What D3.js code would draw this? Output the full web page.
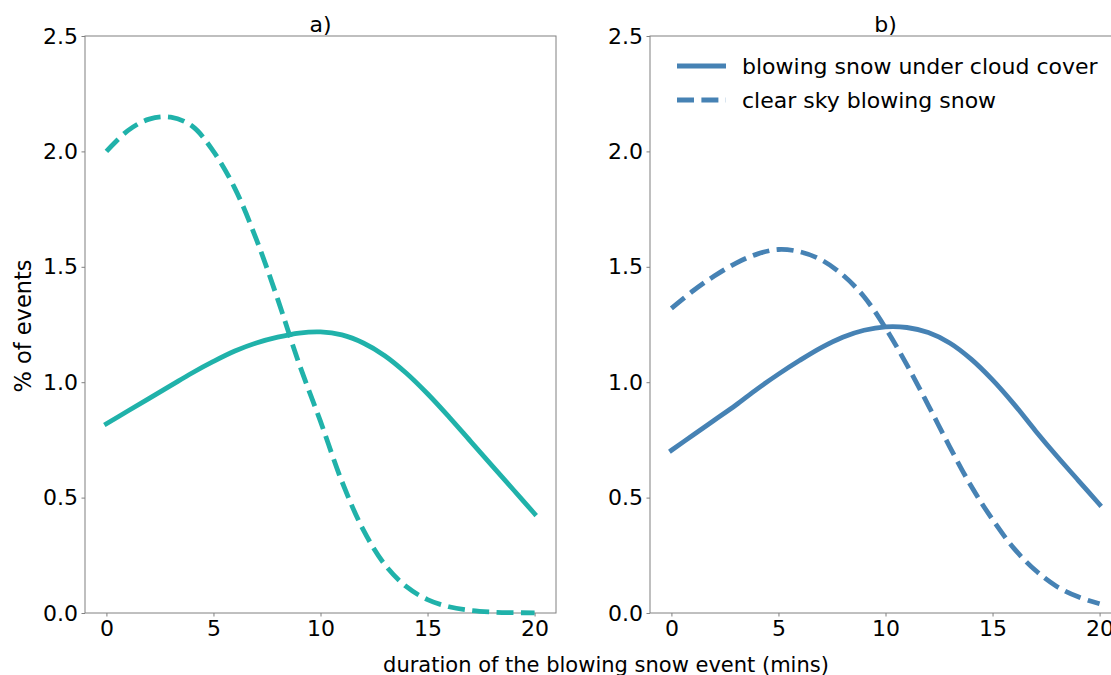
<!DOCTYPE html>
<html>
<head>
<meta charset="utf-8">
<script src="https://cdn.jsdelivr.net/npm/d3@7"></script>
<style>
  html, body { margin: 0; padding: 0; background: #fff; }
  svg { display: block; font-family: "DejaVu Sans", sans-serif; }
</style>
</head>
<body>
<svg id="chart" width="1111" height="675"></svg>
<script>
// ---- data ----
const durations = [0,1,2,3,4,5,6,7,8,9,10,11,12,13,14,15,16,17,18,19,20];
const aCloud = [0.82,0.875,0.93,0.985,1.04,1.09,1.135,1.17,1.195,1.213,1.218,1.205,1.17,1.115,1.04,0.95,0.85,0.745,0.64,0.535,0.43];
const aClear = [2.00,2.09,2.14,2.148,2.11,2.00,1.84,1.62,1.36,1.08,0.83,0.57,0.36,0.21,0.115,0.058,0.027,0.011,0.004,0.0015,0.0005];
const bCloud = [0.705,0.77,0.835,0.90,0.97,1.035,1.095,1.15,1.195,1.225,1.24,1.237,1.215,1.17,1.10,1.01,0.905,0.79,0.68,0.575,0.47];
const bClear = [1.32,1.395,1.46,1.515,1.555,1.575,1.565,1.53,1.465,1.37,1.235,1.075,0.90,0.72,0.55,0.405,0.28,0.185,0.115,0.07,0.04];
const xTicks = [0,5,10,15,20];
const yTicks = [0.0,0.5,1.0,1.5,2.0,2.5];
const panelTitles = ["a)", "b)"];
const legendLabels = ["blowing snow under cloud cover", "clear sky blowing snow"];
const colors = ["#20b2aa", "#4682b4"];

// ---- layout ----
const svg = d3.select("#chart");
const plotTop = 36, plotBottom = 613;
const panels = [
  {x0: 85, x1: 556, cloud: aCloud, clear: aClear, color: colors[0], title: panelTitles[0]},
  {x0: 650, x1: 1121, cloud: bCloud, clear: bClear, color: colors[1], title: panelTitles[1]}
];
const y = d3.scaleLinear().domain([0, 2.5]).range([plotBottom, plotTop]);
const spine = "#808080";
const fs = "22px";
const lw = 4.8;
const dash = "17,7.4";

panels.forEach((p, i) => {
  const x = d3.scaleLinear().domain([-1, 21]).range([p.x0, p.x1]);
  const g = svg.append("g");

  // frame
  g.append("rect").attr("x", p.x0).attr("y", plotTop)
    .attr("width", p.x1 - p.x0).attr("height", plotBottom - plotTop)
    .attr("fill", "none").attr("stroke", spine).attr("stroke-width", 1);

  // axes
  const xa = g.append("g").attr("transform", `translate(0,${plotBottom})`)
    .call(d3.axisBottom(x).tickValues(xTicks).tickFormat(d3.format("d")).tickSizeOuter(0).tickSize(3.5).tickPadding(3.5));
  const ya = g.append("g").attr("transform", `translate(${p.x0},0)`)
    .call(d3.axisLeft(y).tickValues(yTicks).tickFormat(d3.format(".1f")).tickSizeOuter(0).tickSize(3.5).tickPadding(3.5));
  [xa, ya].forEach(a => {
    a.select(".domain").remove();
    a.selectAll(".tick line").attr("stroke", spine);
    a.selectAll(".tick text").attr("fill", "#000").style("font-size", fs)
      .style("font-family", "'DejaVu Sans', sans-serif");
  });

  // title
  g.append("text").attr("x", (p.x0 + p.x1) / 2).attr("y", 32)
    .attr("text-anchor", "middle").style("font-size", fs).text(p.title);

  const line = d3.line().x((d, j) => x(durations[j])).y(d => y(d)).curve(d3.curveCatmullRom.alpha(0.5));

  g.append("path").datum(p.cloud).attr("d", line)
    .attr("fill", "none").attr("stroke", p.color).attr("stroke-width", lw)
    .attr("stroke-linecap", "square");
  g.append("path").datum(p.clear).attr("d", line)
    .attr("fill", "none").attr("stroke", p.color).attr("stroke-width", lw)
    .attr("stroke-dasharray", dash).attr("stroke-linecap", "butt");
});

// legend (panel b)
const lg = svg.append("g");
legendLabels.forEach((lab, i) => {
  const ly = 66 + i * 34;
  lg.append("line").attr("x1", 677).attr("x2", 726).attr("y1", ly).attr("y2", ly)
    .attr("stroke", colors[1]).attr("stroke-width", lw)
    .attr("stroke-dasharray", i === 1 ? dash : null);
  lg.append("text").attr("x", 742).attr("y", ly + 8).style("font-size", fs).text(lab);
});

// axis labels
svg.append("text").attr("x", 606).attr("y", 672).attr("text-anchor", "middle")
  .style("font-size", "21px").text("duration of the blowing snow event (mins)");
svg.append("text").attr("transform", "translate(31,326) rotate(-90)").attr("text-anchor", "middle")
  .style("font-size", "22.5px").text("% of events");
</script>
</body>
</html>
